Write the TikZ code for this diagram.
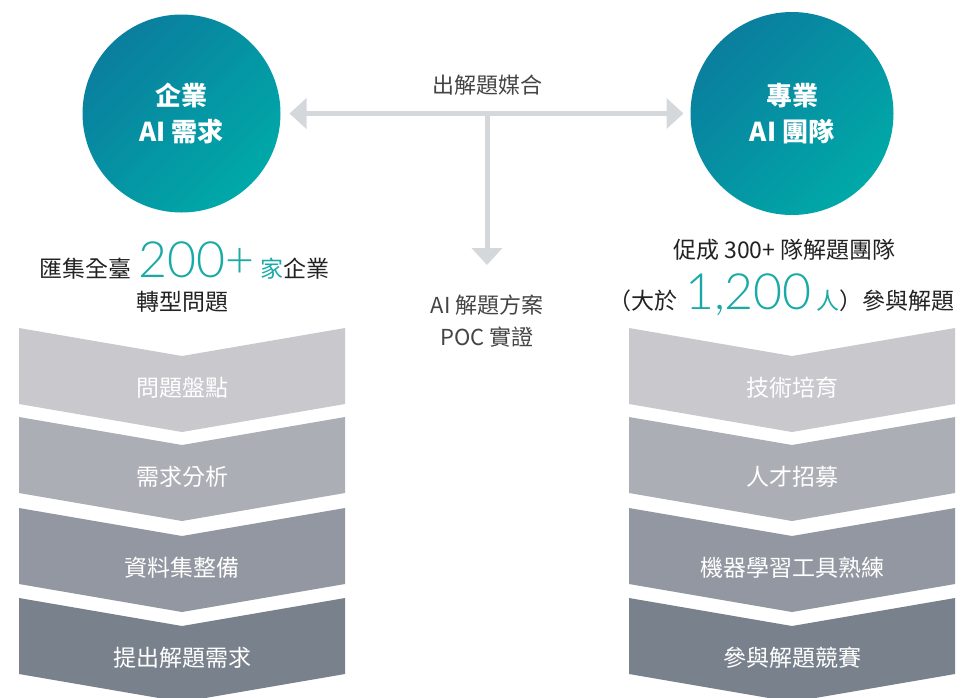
\documentclass[tikz,border=0pt]{standalone}
\usepackage{fontspec}
\setmainfont{Noto Sans CJK TC}
\newfontfamily\thin{Lato Light}
\usetikzlibrary{arrows.meta}
\definecolor{tealA}{HTML}{0A7E9E}
\definecolor{tealB}{HTML}{00A9A8}
\definecolor{accent}{HTML}{19AAA5}
\definecolor{arrowgray}{HTML}{D5D8DB}
\definecolor{chA}{HTML}{C8C8CD}
\definecolor{chB}{HTML}{ABAEB5}
\definecolor{chC}{HTML}{9297A1}
\definecolor{chD}{HTML}{79818C}
\definecolor{textdark}{HTML}{222222}
\definecolor{midgray}{HTML}{444444}
\tikzset{
  bubble/.style={circle, top color=tealA, bottom color=tealB, shading angle=45,
    text=white, align=center, font=\fontsize{26}{36}\selectfont\bfseries},
  conn/.style={draw=arrowgray, line width=5pt},
  tipboth/.style={arrows={Triangle[width=30pt,length=17pt]-Triangle[width=30pt,length=17pt]}},
  tipend/.style={arrows={-Triangle[width=30pt,length=17pt]}},
  midlabel/.style={text=midgray, align=center, font=\fontsize{22}{32}\selectfont},
  headline/.style={text=textdark, font=\fontsize{23}{28}\selectfont},
  chevtext/.style={text=white, font=\fontsize{23}{28}\selectfont},
  bignum/.style={},
}
\newcommand{\bignumber}[1]{{\thin\fontsize{50}{50}\selectfont\color{accent}#1}}
\begin{document}
\begin{tikzpicture}[x=1pt,y=-1pt, every node/.append style={inner sep=0pt, outer sep=0pt}]
\useasboundingbox (0,0) rectangle (966,697);

% circles
\node[bubble, minimum size=198pt] (L) at (181.5,113.5) {企業\\AI 需求};
\node[bubble, minimum size=203pt] (R) at (792,113.5) {專業\\AI 團隊};

% connectors
\coordinate (Ltip) at ([xshift=9pt]L.east);
\coordinate (Rtip) at ([xshift=-7pt]R.west);
\coordinate (J) at (487,113.5);
\coordinate (D) at (487,265);
\draw[conn, tipboth] (Ltip) -- (Rtip);
\draw[conn, tipend] (J) -- (D);

\node[midlabel] (match) at (487,85) {出解題媒合};
\node[midlabel] (poc) at (487,321) {AI 解題方案\\POC 實證};

% headlines
\node[headline, anchor=base] (lh1) at (184,277)
  {匯集全臺\hspace{7pt}\bignumber{200+}\hspace{6pt}{\color{accent}家}企業};
\node[headline] (lh2) at (182.5,302) {轉型問題};
\node[headline] (rh1) at (784.5,250) {促成 300+ 隊解題團隊};
\node[headline, anchor=base] (rh2) at (781.5,309)
  {（大於\hspace{8pt}\bignumber{1,200}\hspace{5pt}{\color{accent}人}）參與解題};

% chevrons
\foreach \t/\c/\lt/\rt/\n in {328/chA/問題盤點/技術培育/1,
                               417/chB/需求分析/人才招募/2,
                               508/chC/資料集整備/機器學習工具熟練/3,
                               598/chD/提出解題需求/參與解題競賽/4}{
  \fill[\c] (19,\t) -- (182,\t+28) -- (345,\t) -- (345,\t+76) -- (182,\t+104) -- (19,\t+76) -- cycle;
  \fill[\c] (629,\t) -- (792,\t+28) -- (955,\t) -- (955,\t+76) -- (792,\t+104) -- (629,\t+76) -- cycle;
  \node[chevtext] (lstep\n) at (182,\t+60) {\lt};
  \node[chevtext] (rstep\n) at (792,\t+60) {\rt};
}
\end{tikzpicture}
\end{document}
